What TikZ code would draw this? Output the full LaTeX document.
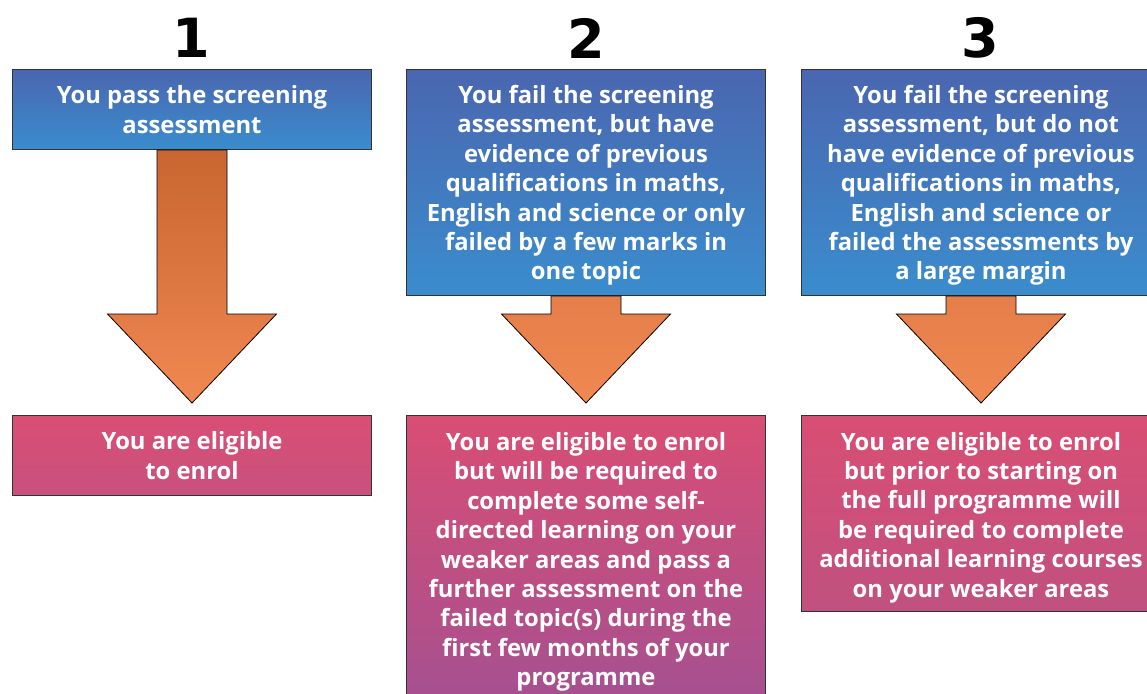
\documentclass[tikz,border=0pt]{standalone}
\usepackage{fontspec}
\setmainfont{Open Sans}
\newfontfamily\numfont{DejaVu Sans}
\usetikzlibrary{calc}
\definecolor{blueTop}{HTML}{4A66B0}
\definecolor{blueBot}{HTML}{3A8DCD}
\definecolor{pinkTop}{HTML}{D94E74}
\definecolor{pinkShort}{HTML}{C8517E}
\definecolor{pinkMid}{HTML}{C0517F}
\definecolor{pinkLong}{HTML}{A45091}
\definecolor{arrowDark}{HTML}{C96530}
\definecolor{arrowLight}{HTML}{F08852}
\newcommand{\topgap}[1]{\rule{0pt}{#1}}
\begin{document}
\begin{tikzpicture}[x=1pt,y=-1pt,
    txt/.style={font=\fontsize{23.8}{29.4}\selectfont\bfseries, text=white, align=center},
    question/.style={txt, draw=black!80, line width=1pt, anchor=north west,
      minimum width=359, top color=blueTop, bottom color=blueBot},
    result/.style={txt, draw=black!80, line width=1pt, anchor=north west,
      minimum width=359, top color=pinkTop, bottom color=#1},
    num/.style={font=\numfont\fontsize{54}{54}\selectfont\bfseries},
    downarrow/.style={draw=black, line width=0.8pt, line join=miter}]
  \clip (0,0) rectangle (1147,693);
  % step numbers
  \node[num] (n1) at (191,38) {1};
  \node[num] (n2) at (586,38) {2};
  \node[num] (n3) at (980,38) {3};
  % what happened in the screening
  \node[question, minimum height=80] (t1) at (12,69)
    {You pass the screening\\assessment};
  \node[question, minimum height=226] (t2) at (406,69)
    {\topgap{24pt}You fail the screening\\assessment, but have\\evidence of previous\\qualifications in maths,\\English and science or only\\failed by a few marks in\\one topic};
  \node[question, minimum height=226] (t3) at (801,69)
    {\topgap{24pt}You fail the screening\\assessment, but do not\\have evidence of previous\\qualifications in maths,\\English and science or\\failed the assessments by\\a large margin};
  % outcome
  \node[result=pinkShort, minimum height=80] (r1) at (12,415)
    {You are eligible\\to enrol};
  \node[result=pinkLong, minimum height=293] (r2) at (406,415)
    {You are eligible to enrol\\but will be required to\\complete some self-\\directed learning on your\\weaker areas and pass a\\further assessment on the\\failed topic(s) during the\\first few months of your\\programme};
  \node[result=pinkMid, minimum height=196] (r3) at (801,415)
    {\topgap{26pt}You are eligible to enrol\\but prior to starting on\\the full programme will\\be required to complete\\additional learning courses\\on your weaker areas};
  % block arrows
  \foreach \a/\b/\c in {t1/r1/arrowDark, t2/r2/arrowLight!70!arrowDark, t3/r3/arrowLight!70!arrowDark}
    \draw[downarrow, top color=\c, bottom color=arrowLight]
      ($(\a.south)+(-35,0)$) -- ($(\b.north)+(-35,-101)$)
      -- ($(\b.north)+(-84.5,-101)$) -- ($(\b.north)+(0,-12)$)
      -- ($(\b.north)+(84.5,-101)$) -- ($(\b.north)+(35,-101)$)
      -- ($(\a.south)+(35,0)$) -- cycle;
\end{tikzpicture}
\end{document}
